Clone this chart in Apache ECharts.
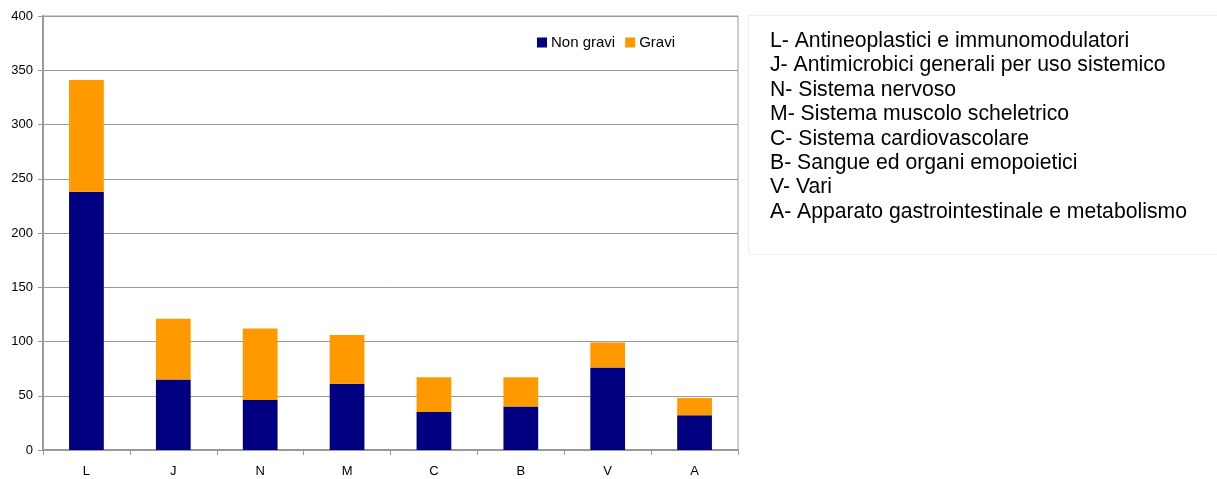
<!DOCTYPE html>
<html>
<head>
<meta charset="utf-8">
<script src="https://cdn.jsdelivr.net/npm/echarts@6/dist/echarts.min.js"></script>
<style>
  html, body { margin: 0; padding: 0; background: #fff; }
  #chart { width: 1217px; height: 479px; }
</style>
</head>
<body>
<div id="chart"></div>
<script>
// ATC groups and number of reports per group
const categories = ['L', 'J', 'N', 'M', 'C', 'B', 'V', 'A'];
const nonGravi = [238, 65, 46, 61, 35, 40, 76, 32];
const gravi = [103, 56, 66, 45, 32, 27, 23, 16];
const yTicks = { min: 0, max: 400, interval: 50 };
const descriptions = [
  'L- Antineoplastici e immunomodulatori',
  'J- Antimicrobici generali per uso sistemico',
  'N- Sistema nervoso',
  'M- Sistema muscolo scheletrico',
  'C- Sistema cardiovascolare',
  'B- Sangue ed organi emopoietici',
  'V- Vari',
  'A- Apparato gastrointestinale e metabolismo'
];

const FONT = '"Liberation Sans", Arial, sans-serif';
const chart = echarts.init(document.getElementById('chart'), null, { renderer: 'canvas' });

chart.setOption({
  animation: false,
  backgroundColor: '#fff',
  textStyle: { fontFamily: FONT },
  grid: {
    left: 43, right: 479, top: 16, bottom: 29,
    show: true, borderColor: '#999', borderWidth: 1, backgroundColor: 'transparent'
  },
  legend: {
    left: 532, top: 30,
    itemWidth: 10, itemHeight: 10, itemGap: 10,
    icon: 'rect',
    textStyle: { fontFamily: FONT, fontSize: 15, color: '#000', padding: [0, 0, 0, -1] },
    data: ['Non gravi', 'Gravi']
  },
  xAxis: {
    type: 'category',
    data: categories,
    axisLine: { lineStyle: { color: '#999', width: 2 } },
    axisTick: { show: true, length: 5, lineStyle: { color: '#999' } },
    axisLabel: { color: '#000', fontSize: 13, fontFamily: FONT, margin: 15 },
    splitLine: { show: false }
  },
  yAxis: {
    type: 'value',
    min: yTicks.min, max: yTicks.max, interval: yTicks.interval,
    axisLine: { show: true, lineStyle: { color: '#999', width: 2 } },
    axisTick: { show: true, length: 5, lineStyle: { color: '#999' } },
    axisLabel: { color: '#000', fontSize: 13, fontFamily: FONT, margin: 10 },
    splitLine: { lineStyle: { color: '#999', width: 1 } }
  },
  series: [
    {
      name: 'Non gravi', type: 'bar', stack: 'tot', data: nonGravi,
      barWidth: '40%', itemStyle: { color: '#000080' }
    },
    {
      name: 'Gravi', type: 'bar', stack: 'tot', data: gravi,
      barWidth: '40%', itemStyle: { color: '#FF9900' }
    }
  ],
  graphic: [
    {
      type: 'rect',
      shape: { x: 748.5, y: 15.5, width: 480, height: 239 },
      style: { fill: '#fff', stroke: '#eeeeee', lineWidth: 1 },
      z: 1
    },
    {
      type: 'text',
      left: 770, top: 29,
      style: {
        text: descriptions.join('\n'),
        font: '21.2px ' + FONT,
        fill: '#000',
        lineHeight: 24.4
      },
      z: 2
    }
  ]
});
</script>
</body>
</html>
